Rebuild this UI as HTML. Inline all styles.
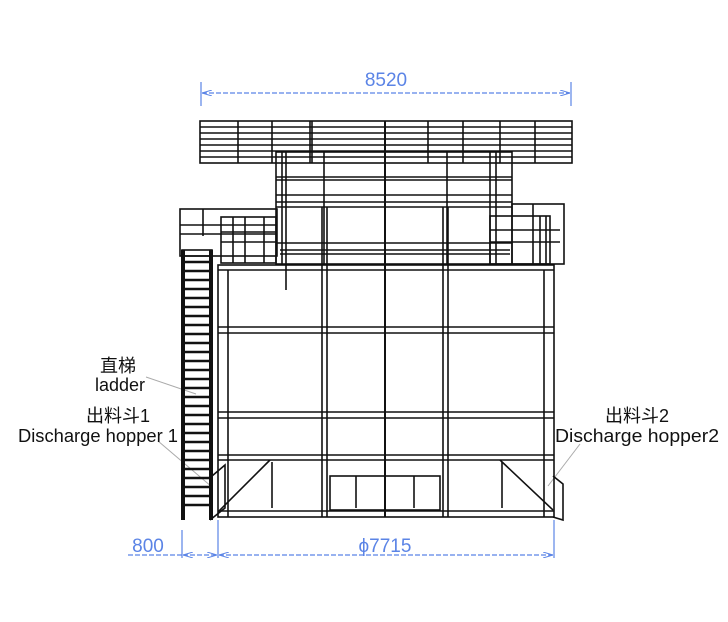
<!DOCTYPE html>
<html><head><meta charset="utf-8"><style>
html,body{margin:0;padding:0;background:#fff}
svg{display:block}
text{font-family:"Liberation Sans","Noto Sans CJK SC",sans-serif}
</style></head><body>
<svg width="728" height="622" viewBox="0 0 728 622" xmlns="http://www.w3.org/2000/svg">
<defs>
<marker id="ar" viewBox="0 0 10 6" refX="10" refY="3" markerWidth="10" markerHeight="6" orient="auto-start-reverse" markerUnits="userSpaceOnUse"><path d="M0,0 L10,3 L0,6" fill="none" stroke="#5b84e6" stroke-width="1"/></marker>
</defs>
<g stroke="#5b84e6" stroke-width="1.2" fill="none">
<line x1="201" y1="82" x2="201" y2="106"/><line x1="571" y1="82" x2="571" y2="106"/>
<line x1="202" y1="93" x2="570" y2="93" stroke-dasharray="5 2" marker-start="url(#ar)" marker-end="url(#ar)"/>
<line x1="182" y1="530" x2="182" y2="558"/><line x1="218" y1="520" x2="218" y2="558"/><line x1="554" y1="520" x2="554" y2="558"/>
<line x1="128" y1="555" x2="182" y2="555" stroke-dasharray="5 2"/>
<line x1="183" y1="555" x2="217" y2="555" stroke-dasharray="5 2" marker-start="url(#ar)" marker-end="url(#ar)"/>
<line x1="219" y1="555" x2="553" y2="555" stroke-dasharray="5 2" marker-start="url(#ar)" marker-end="url(#ar)"/>
</g>
<g fill="#5b84e6" font-size="19">
<text x="386" y="86" text-anchor="middle">8520</text>
<text x="148" y="552" text-anchor="middle">800</text>
<text x="385" y="552" text-anchor="middle">ϕ7715</text>
</g>
<g stroke="#aaa" stroke-width="1">
<line x1="146" y1="377" x2="196" y2="394"/>
<line x1="158" y1="441" x2="212" y2="487"/>
<line x1="580" y1="444" x2="548" y2="486"/>
</g>
<g stroke="#111" fill="none" stroke-width="1.6">
<rect x="200" y="121" width="372" height="42"/>
<line x1="200" y1="127" x2="572" y2="127"/>
<line x1="200" y1="133" x2="572" y2="133"/>
<line x1="200" y1="139" x2="572" y2="139"/>
<line x1="200" y1="145" x2="572" y2="145"/>
<line x1="200" y1="151" x2="572" y2="151"/>
<line x1="200" y1="157" x2="572" y2="157"/>
<line x1="238" y1="121" x2="238" y2="163"/><line x1="272" y1="121" x2="272" y2="163"/>
<line x1="310" y1="121" x2="310" y2="163"/><line x1="312" y1="121" x2="312" y2="163"/>
<line x1="428" y1="121" x2="428" y2="163"/><line x1="463" y1="121" x2="463" y2="163"/>
<line x1="500" y1="121" x2="500" y2="163"/><line x1="535" y1="121" x2="535" y2="163"/>
<rect x="276" y="152" width="236" height="112"/>
<line x1="276" y1="177" x2="512" y2="177"/>
<line x1="276" y1="180" x2="512" y2="180"/>
<line x1="276" y1="195" x2="512" y2="195"/>
<line x1="276" y1="202" x2="512" y2="202"/>
<line x1="276" y1="207" x2="512" y2="207"/>
<line x1="276" y1="243" x2="512" y2="243"/>
<line x1="280" y1="250" x2="510" y2="250"/>
<line x1="280" y1="254" x2="510" y2="254"/>
<line x1="282" y1="152" x2="282" y2="264"/>
<line x1="286" y1="152" x2="286" y2="290"/>
<line x1="324" y1="152" x2="324" y2="264"/>
<line x1="447" y1="152" x2="447" y2="264"/>
<line x1="490" y1="152" x2="490" y2="264"/>
<line x1="496" y1="152" x2="496" y2="264"/>
<rect x="180" y="209" width="97" height="47"/>
<line x1="180" y1="225" x2="277" y2="225"/>
<line x1="180" y1="234" x2="277" y2="234"/>
<line x1="203" y1="209" x2="203" y2="236"/>
<rect x="221" y="217" width="55" height="46"/>
<line x1="221" y1="232" x2="276" y2="232"/><line x1="221" y1="242" x2="276" y2="242"/>
<line x1="233" y1="217" x2="233" y2="263"/><line x1="245" y1="217" x2="245" y2="263"/><line x1="264" y1="217" x2="264" y2="263"/>
<rect x="512" y="204" width="52" height="60"/>
<rect x="490" y="216" width="60" height="48"/>
<line x1="490" y1="230" x2="560" y2="230"/><line x1="490" y1="242" x2="560" y2="242"/>
<line x1="533" y1="204" x2="533" y2="264"/><line x1="540" y1="216" x2="540" y2="264"/><line x1="546" y1="216" x2="546" y2="264"/>
<rect x="218" y="265" width="336" height="252"/>
<line x1="218" y1="270" x2="554" y2="270"/>
<line x1="228" y1="270" x2="228" y2="517"/>
<line x1="544" y1="270" x2="544" y2="517"/>
<line x1="218" y1="327" x2="554" y2="327"/><line x1="218" y1="333" x2="554" y2="333"/>
<line x1="218" y1="412" x2="554" y2="412"/><line x1="218" y1="418" x2="554" y2="418"/>
<line x1="218" y1="455" x2="554" y2="455"/><line x1="218" y1="460" x2="554" y2="460"/>
<line x1="218" y1="511" x2="554" y2="511"/>
<line x1="322" y1="207" x2="322" y2="517"/><line x1="327" y1="207" x2="327" y2="517"/>
<line x1="385" y1="121" x2="385" y2="517" stroke-width="2"/>
<line x1="443" y1="207" x2="443" y2="517"/><line x1="448" y1="207" x2="448" y2="517"/>
<rect x="330" y="476" width="110" height="34"/>
<line x1="356" y1="476" x2="356" y2="508"/><line x1="414" y1="476" x2="414" y2="508"/>
<line x1="272" y1="462" x2="272" y2="508"/><line x1="502" y1="462" x2="502" y2="508"/>
<line x1="270" y1="460" x2="218" y2="512"/>
<line x1="500" y1="460" x2="553" y2="510"/>
<polyline points="212,476 225,465 225,508 210,520"/>
<polyline points="553,476 563,484 563,520 553,517"/>
</g>
<g stroke="#111" fill="none">
<rect x="182" y="250" width="30" height="6" stroke-width="1.6"/>
<line x1="183" y1="250" x2="183" y2="520" stroke-width="4"/>
<line x1="211" y1="250" x2="211" y2="520" stroke-width="4"/>
<path stroke-width="2.5" d="M183 262H211M183 271H211M183 280H211M183 289H211M183 298H211M183 307H211M183 316H211M183 325H211M183 334H211M183 343H211M183 352H211M183 361H211M183 370H211M183 379H211M183 388H211M183 397H211M183 406H211M183 415H211M183 424H211M183 433H211M183 442H211M183 451H211M183 460H211M183 469H211M183 478H211M183 487H211M183 496H211M183 505H211"/>
</g>
<g fill="#111" font-size="18">
<text x="118" y="372" text-anchor="middle">直梯</text>
<text x="120" y="391" text-anchor="middle">ladder</text>
<text x="118" y="422" text-anchor="middle">出料斗1</text>
<text x="18" y="442" textLength="160" lengthAdjust="spacingAndGlyphs">Discharge hopper 1</text>
<text x="637" y="422" text-anchor="middle">出料斗2</text>
<text x="555" y="442" textLength="164" lengthAdjust="spacingAndGlyphs">Discharge hopper2</text>
</g>
</svg>
</body></html>
